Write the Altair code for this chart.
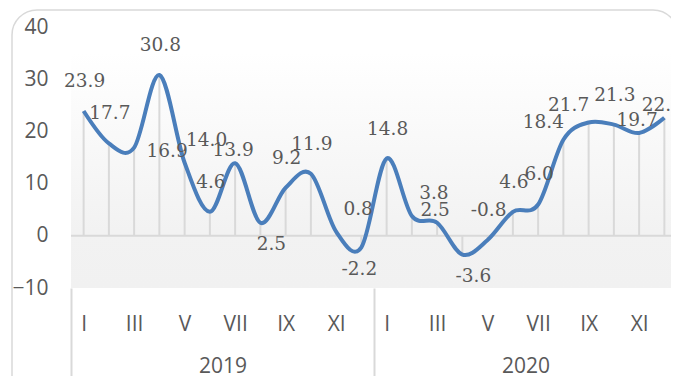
import altair as alt
import pandas as pd

# ---- data ----
months = ["I", "II", "III", "IV", "V", "VI", "VII", "VIII", "IX", "X", "XI", "XII"]
years = ["2019", "2020"]
values_2019 = [23.9, 17.7, 16.9, 30.8, 14.0, 4.6, 13.9, 2.5, 9.2, 11.9, 0.8, -2.2]
values_2020 = [14.8, 3.8, 2.5, -3.6, -0.8, 4.6, 6.0, 18.4, 21.7, 21.3, 19.7, 22.6]
# data-label placement (like Excel's label position)
label_pos_2019 = ["t", "t", "r", "t", "tr", "t", "tn", "br", "t", "t", "tr", "b"]
label_pos_2020 = ["t", "tr", "tn", "br", "t", "t", "t", "tl", "tl", "t", "tn", "tn"]
y_ticks = [-10, 0, 10, 20, 30, 40]

# ---- styles ----
W, H = 606, 261
GREY_TXT = "#595959"
GRID = "#d9d9d9"
BLUE = "#4a7ebb"
offsets = {"t": (1, -30), "tn": (-2, -13), "b": (-2, 22), "br": (11, 21),
           "r": (33, 3), "tr": (22, -23), "tl": (-20, -18)}

series = [values_2019, values_2020]
positions = [label_pos_2019, label_pos_2020]
rows = []
for yi, (yr, vals, poss) in enumerate(zip(years, series, positions)):
    for mi, (v, p) in enumerate(zip(vals, poss)):
        rows.append({"idx": yi * len(months) + mi, "year": yr, "month": months[mi],
                     "value": v, "label": f"{v:.1f}", "pos": p})
df = pd.DataFrame(rows)
n = len(df)
one = pd.DataFrame({"a": [0]})

xscale = alt.Scale(domain=[-0.5, n - 0.5], nice=False, zero=False)
yscale = alt.Scale(domain=[min(y_ticks), max(y_ticks)], nice=False, zero=False)

roman_js = "[" + ",".join(f"'{m}'" for m in months) + "]"
month_axis = alt.Axis(values=list(range(0, n, 2)), labelExpr=f"{roman_js}[datum.value % {len(months)}]",
                      labelPadding=25, ticks=False, domain=False, grid=False, title=None,
                      labelFontSize=21, labelFont="Open Sans", labelColor=GREY_TXT,
                      labelFlush=False, labelOverlap=False, orient="bottom")
sep_vals = [-0.5 + i * len(months) for i in range(len(years) + 1)]
sep_axis = alt.Axis(values=sep_vals, labels=False, ticks=True, tickSize=90, tickWidth=2,
                    tickColor=GRID, domain=False, grid=False, title=None, orient="bottom")
mid_vals = [-0.5 + (i + 0.5) * len(months) for i in range(len(years))]
year_expr = f"'{years[-1]}'"
for i in range(len(years) - 2, -1, -1):
    year_expr = f"datum.value < {sep_vals[i + 1]} ? '{years[i]}' : ({year_expr})"
year_axis = alt.Axis(values=mid_vals, labelExpr=year_expr, labelPadding=67, ticks=False,
                     domain=False, grid=False, title=None, labelFontSize=21,
                     labelFont="Open Sans", labelColor=GREY_TXT, labelFlush=False,
                     labelOverlap=False, orient="bottom")
y_axis = alt.Axis(values=y_ticks, labelPadding=23, ticks=False, domain=False, grid=False,
                  title=None, labelFontSize=21, labelFont="Open Sans", labelColor=GREY_TXT)

frame = alt.Chart(one).mark_rect(fill="white", fillOpacity=0, stroke=GRID, strokeWidth=1.5,
                                 cornerRadius=25).encode(
    x=alt.value(-59), x2=alt.value(607), y=alt.value(-17), y2=alt.value(420))

bg = alt.Chart(one).mark_rect(
    color=alt.LinearGradient(gradient="linear", x1=0, x2=0, y1=0, y2=1,
                             stops=[alt.GradientStop(color="#ffffff", offset=0),
                                    alt.GradientStop(color="#ffffff", offset=0.1),
                                    alt.GradientStop(color="#f2f2f2", offset=0.78),
                                    alt.GradientStop(color="#f1f1f1", offset=1)])
).encode(x=alt.value(0), x2=alt.value(W), y=alt.value(0), y2=alt.value(H))

zero = alt.Chart(one).mark_rule(color=GRID, strokeWidth=2).encode(
    x=alt.XDatum(-0.5, type="quantitative", scale=xscale, axis=year_axis),
    x2=alt.X2Datum(n - 0.5),
    y=alt.YDatum(0, type="quantitative", scale=yscale, axis=y_axis))

drops = alt.Chart(df).mark_rule(color=GRID, strokeWidth=2).encode(
    x=alt.X("idx:Q", scale=xscale, axis=month_axis),
    y=alt.Y("value:Q", scale=yscale, axis=y_axis),
    y2=alt.Y2Datum(0))

line = alt.Chart(df).mark_line(color=BLUE, strokeWidth=4, interpolate="cardinal").encode(
    x=alt.X("idx:Q", scale=xscale, axis=sep_axis),
    y=alt.Y("value:Q", scale=yscale, axis=y_axis))

texts = []
for key, (dx, dy) in offsets.items():
    texts.append(alt.Chart(df).transform_filter(alt.datum.pos == key).mark_text(
        dx=dx, dy=dy, font="DejaVu Serif", fontSize=18.5, color=GREY_TXT,
        align="center", baseline="middle").encode(
        x=alt.X("idx:Q", scale=xscale, axis=None),
        y=alt.Y("value:Q", scale=yscale, axis=y_axis),
        text="label:N"))

chart = alt.layer(frame, bg, zero, drops, line, *texts).resolve_axis(x="independent").properties(
    width=W, height=H, autosize=alt.AutoSizeParams(type="none"),
    padding={"left": 63, "top": 19, "right": -6, "bottom": 88},
    background="white"
).configure_view(stroke=None)

chart.save("out.html", embed_options={"renderer": "svg", "actions": False})
